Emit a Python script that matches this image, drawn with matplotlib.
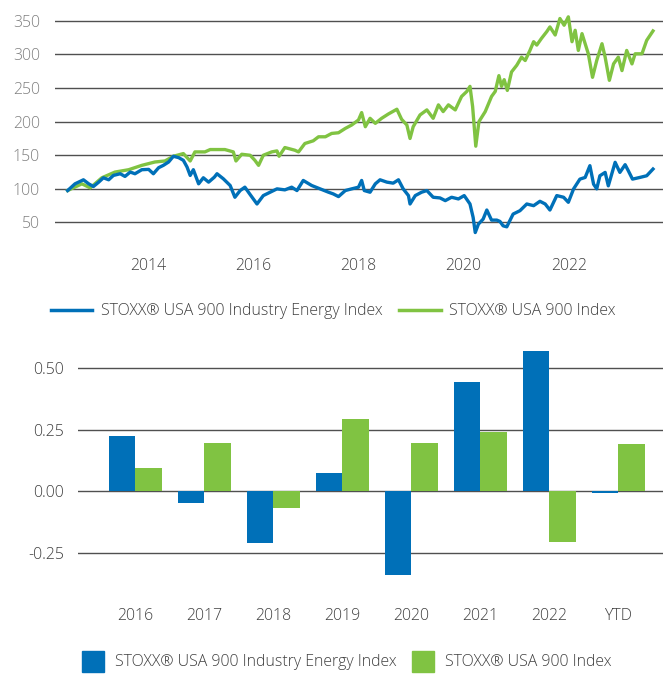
import numpy as np
import matplotlib
matplotlib.use("Agg")
import matplotlib.pyplot as plt
from matplotlib.lines import Line2D
from matplotlib.patches import Patch

# ---- line chart data (decimal years, index level) ----
energy_t = [2012.47, 2012.61, 2012.77, 2012.87, 2012.96, 2013.06, 2013.15, 2013.25,
            2013.34, 2013.47, 2013.56, 2013.66, 2013.75, 2013.88, 2014.01, 2014.10,
            2014.20, 2014.29, 2014.39, 2014.48, 2014.58, 2014.67, 2014.74, 2014.80,
            2014.86, 2014.96, 2015.05, 2015.15, 2015.26, 2015.31, 2015.43, 2015.56,
            2015.65, 2015.75, 2015.84, 2015.94, 2016.07, 2016.19, 2016.32, 2016.45,
            2016.60, 2016.73, 2016.83, 2016.95, 2017.11, 2017.27, 2017.43, 2017.52,
            2017.62, 2017.75, 2017.87, 2018.00, 2018.06, 2018.11, 2018.22, 2018.32,
            2018.41, 2018.54, 2018.66, 2018.76, 2018.85, 2018.95, 2018.98, 2019.08,
            2019.20, 2019.30, 2019.42, 2019.55, 2019.65, 2019.77, 2019.90, 2020.01,
            2020.12, 2020.18, 2020.22, 2020.28, 2020.37, 2020.44, 2020.53, 2020.63,
            2020.69, 2020.75, 2020.82, 2020.94, 2021.07, 2021.20, 2021.33, 2021.45,
            2021.55, 2021.64, 2021.77, 2021.90, 2021.99, 2022.09, 2022.21, 2022.31,
            2022.40, 2022.47, 2022.53, 2022.59, 2022.69, 2022.75, 2022.88, 2022.97,
            2023.07, 2023.13, 2023.21, 2023.35, 2023.48, 2023.60]
energy_v = [97.5, 107.5, 113.5, 107.5, 103.5, 110, 116.5, 113.5,
            120, 122.5, 118.5, 125, 122.5, 128.5, 129, 122.5,
            131.5, 135, 140, 148.5, 146.5, 142.5, 132.5, 120,
            128.5, 107.5, 116.5, 110, 117.5, 122.5, 115, 105,
            87.5, 97.5, 102.5, 91.5, 77.5, 90, 95, 100,
            98.5, 102.5, 97.5, 112.5, 105, 100, 95, 92.5,
            88.5, 97.5, 100, 102.5, 112.5, 97.5, 95, 107.5,
            113.5, 110, 108.5, 113.5, 100, 90, 77.5, 90,
            95, 97.5, 87.5, 86.5, 82.5, 87.5, 85, 90,
            77.5, 57.5, 35, 47.5, 55, 68.5, 53.5, 53.5,
            51.5, 45, 43.5, 62.5, 67.5, 77.5, 75, 81.5,
            77.5, 68.5, 90, 87.5, 80, 100, 114.5, 117,
            134.5, 107, 100, 119.5, 124.5, 104.5, 139.5, 124.5,
            136, 127, 114.5, 117, 119.5, 129.5]

broad_t = [2012.47, 2012.74, 2012.90, 2013.12, 2013.37, 2013.63, 2013.88, 2014.13,
           2014.32, 2014.48, 2014.67, 2014.80, 2014.89, 2015.08, 2015.18, 2015.27,
           2015.46, 2015.62, 2015.67, 2015.78, 2015.94, 2016.03, 2016.10, 2016.19,
           2016.35, 2016.45, 2016.49, 2016.60, 2016.79, 2016.86, 2016.98, 2017.14,
           2017.24, 2017.37, 2017.49, 2017.62, 2017.75, 2017.87, 2018.00, 2018.06,
           2018.13, 2018.22, 2018.32, 2018.44, 2018.57, 2018.73, 2018.82, 2018.92,
           2018.98, 2019.04, 2019.17, 2019.30, 2019.42, 2019.52, 2019.61, 2019.71,
           2019.84, 2019.96, 2020.06, 2020.12, 2020.17, 2020.23, 2020.29, 2020.41,
           2020.53, 2020.60, 2020.67, 2020.72, 2020.77, 2020.83, 2020.91, 2021.01,
           2021.10, 2021.17, 2021.26, 2021.33, 2021.39, 2021.48, 2021.58, 2021.64,
           2021.74, 2021.83, 2021.91, 2021.99, 2022.06, 2022.12, 2022.18, 2022.25,
           2022.33, 2022.37, 2022.45, 2022.53, 2022.63, 2022.69, 2022.77, 2022.85,
           2022.94, 2023.01, 2023.10, 2023.20, 2023.26, 2023.39, 2023.48, 2023.60]
broad_v = [97.5, 107.5, 101.5, 116.5, 125, 128.5, 135, 140,
           141.5, 148.5, 152.5, 141.5, 155, 155, 158.5, 158.5,
           158.5, 155, 141.5, 151.5, 150, 142.5, 135, 150,
           155, 156.5, 148.5, 161.5, 157.5, 155, 167.5, 171.5,
           177.5, 177.5, 182.5, 183.5, 190, 195, 202.5, 213.5,
           192.5, 205, 197.5, 205, 211.5, 218.5, 203.5, 195,
           175, 192.5, 210, 217.5, 205, 225, 215, 225,
           217.5, 237.5, 245, 252.5, 222.5, 163.5, 200, 215,
           237.5, 245, 268.5, 252.5, 262.5, 246.5, 274, 284,
           296, 291, 306, 319, 314, 324, 334, 341,
           329, 353.5, 343.5, 356, 319, 336, 306, 331,
           311, 301, 266, 291, 316, 296, 261.5, 286,
           296, 276, 306, 286, 301, 301, 321, 335]

year_ticks = [2014, 2016, 2018, 2020, 2022]
level_ticks = [50, 100, 150, 200, 250, 300, 350]

# ---- annual returns ----
periods = ["2016", "2017", "2018", "2019", "2020", "2021", "2022", "YTD"]
energy_ret = [0.226, -0.045, -0.211, 0.076, -0.341, 0.446, 0.572, -0.008]
broad_ret = [0.096, 0.198, -0.069, 0.295, 0.198, 0.243, -0.207, 0.194]
return_ticks = [-0.25, 0.0, 0.25, 0.50]

name_energy = "STOXX® USA 900 Industry Energy Index"
name_broad = "STOXX® USA 900 Index"

BLUE = "#0070b8"
GREEN = "#80c342"
GRID = "#505050"
TEXT = "#404040"
FS = 11.4

plt.rcParams['font.family'] = ['Open Sans', 'DejaVu Sans']
plt.rcParams['font.weight'] = 'light'
plt.rcParams['axes.unicode_minus'] = False

fig = plt.figure(figsize=(6.63, 6.74), dpi=100)

# top: index levels
ax1 = fig.add_axes([0.083, 0.650, 0.917, 0.329])
ax1.plot(broad_t, broad_v, color=GREEN, lw=2.4)
ax1.plot(energy_t, energy_v, color=BLUE, lw=2.4)
ax1.set_xlim(2012.23, 2023.79)
ax1.set_ylim(30, 360)
ax1.set_xticks(year_ticks)
ax1.set_xticklabels([str(y) for y in year_ticks])
ax1.set_yticks(level_ticks)
ax1.grid(axis='y', color=GRID, lw=1.0)
ax1.set_axisbelow(True)
for s in ax1.spines.values():
    s.set_visible(False)
ax1.tick_params(axis='x', length=0, pad=16, labelsize=FS, labelcolor=TEXT)
ax1.tick_params(axis='y', length=0, pad=11, labelsize=FS, labelcolor='#808080')

handles = [Line2D([], [], color=BLUE, lw=2.5), Line2D([], [], color=GREEN, lw=2.5)]
fig.legend(handles, [name_energy, name_broad], loc='center', bbox_to_anchor=(0.503, 0.538),
           ncol=2, frameon=False, fontsize=FS, handlelength=2.6, handletextpad=0.55,
           columnspacing=1.05, labelcolor=TEXT)

# bottom: annual returns
ax2 = fig.add_axes([0.1176, 0.1246, 0.8824, 0.3655])
x = np.arange(len(periods))
w = 0.385
ax2.bar(x - w / 2, energy_ret, width=w, color=BLUE)
ax2.bar(x + w / 2, broad_ret, width=w, color=GREEN)
ax2.set_xlim(-0.83, 7.65)
ax2.set_ylim(-0.4, 0.6)
ax2.set_xticks(x)
ax2.set_xticklabels(periods)
ax2.set_yticks(return_ticks)
ax2.set_yticklabels([f"{v:.2f}" for v in return_ticks])
ax2.grid(axis='y', color=GRID, lw=1.0)
ax2.set_axisbelow(True)
for s in ax2.spines.values():
    s.set_visible(False)
ax2.tick_params(axis='x', length=0, pad=13, labelsize=FS, labelcolor=TEXT)
ax2.tick_params(axis='y', length=0, pad=10, labelsize=FS, labelcolor=TEXT)

bar_handles = [Patch(color=BLUE), Patch(color=GREEN)]
fig.legend(bar_handles, [name_energy, name_broad], loc='center', bbox_to_anchor=(0.523, 0.019),
           ncol=2, frameon=False, fontsize=FS, handlelength=1.35, handleheight=1.7,
           handletextpad=0.7, columnspacing=1.0, labelcolor=TEXT)

fig.savefig("out.png", dpi=100)
